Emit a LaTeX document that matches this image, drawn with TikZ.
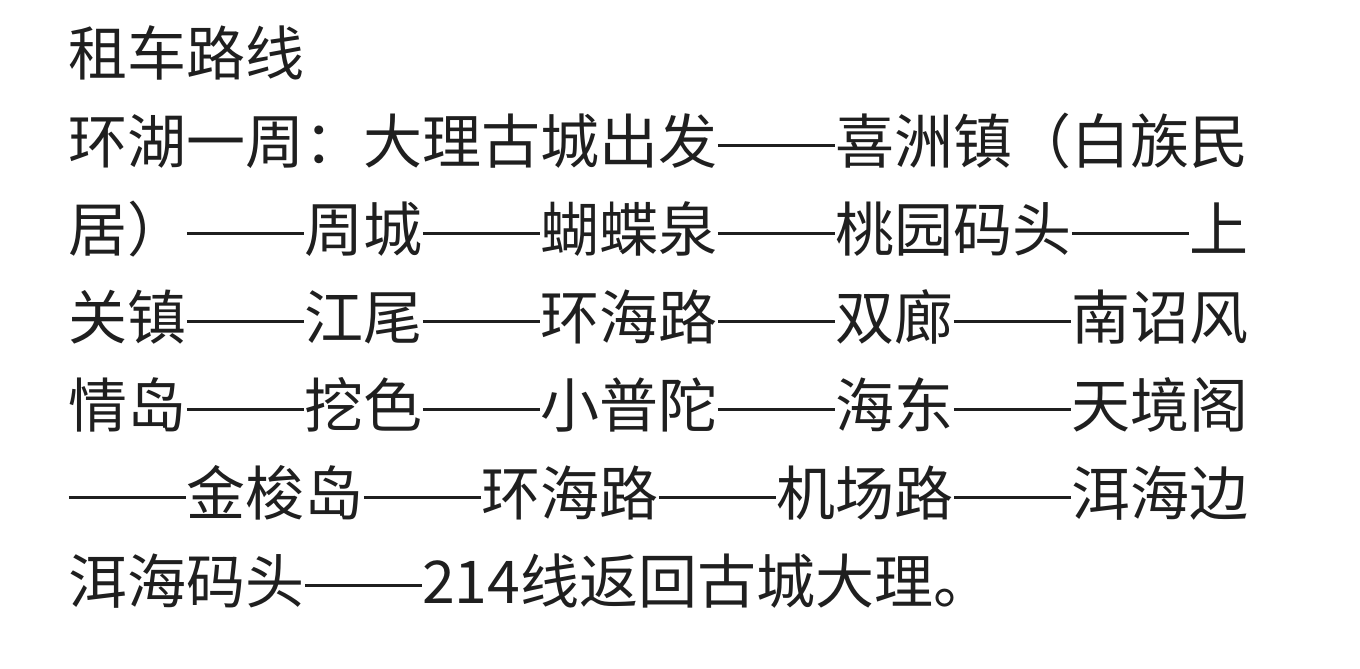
\documentclass[tikz,border=0pt]{standalone}
\usepackage{fontspec}
\newfontfamily\cjk{Noto Sans CJK SC}
\newcommand{\dd}{\makebox[2em][c]{\rule[0.29em]{1.98em}{0.045em}}}
\begin{document}
\begin{tikzpicture}[x=1pt,y=1pt,txt/.style={anchor=base west,inner sep=0pt,font=\cjk\fontsize{59}{59}\selectfont,text=black!88}]
\useasboundingbox (0,0) rectangle (1360,669);
\node[txt] (l1) at (68,669-76) {租车路线};
\node[txt] (l2) at (68,669-164) {环湖一周：大理古城出发\dd 喜洲镇（白族民};
\node[txt] (l3) at (68,669-252) {居）\dd 周城\dd 蝴蝶泉\dd 桃园码头\dd 上};
\node[txt] (l4) at (68,669-340) {关镇\dd 江尾\dd 环海路\dd 双廊\dd 南诏风};
\node[txt] (l5) at (68,669-428) {情岛\dd 挖色\dd 小普陀\dd 海东\dd 天境阁};
\node[txt] (l6) at (68,669-516) {\dd 金梭岛\dd 环海路\dd 机场路\dd 洱海边};
\node[txt] (l7) at (68,669-604) {洱海码头\dd 214线返回古城大理。};
\end{tikzpicture}
\end{document}
